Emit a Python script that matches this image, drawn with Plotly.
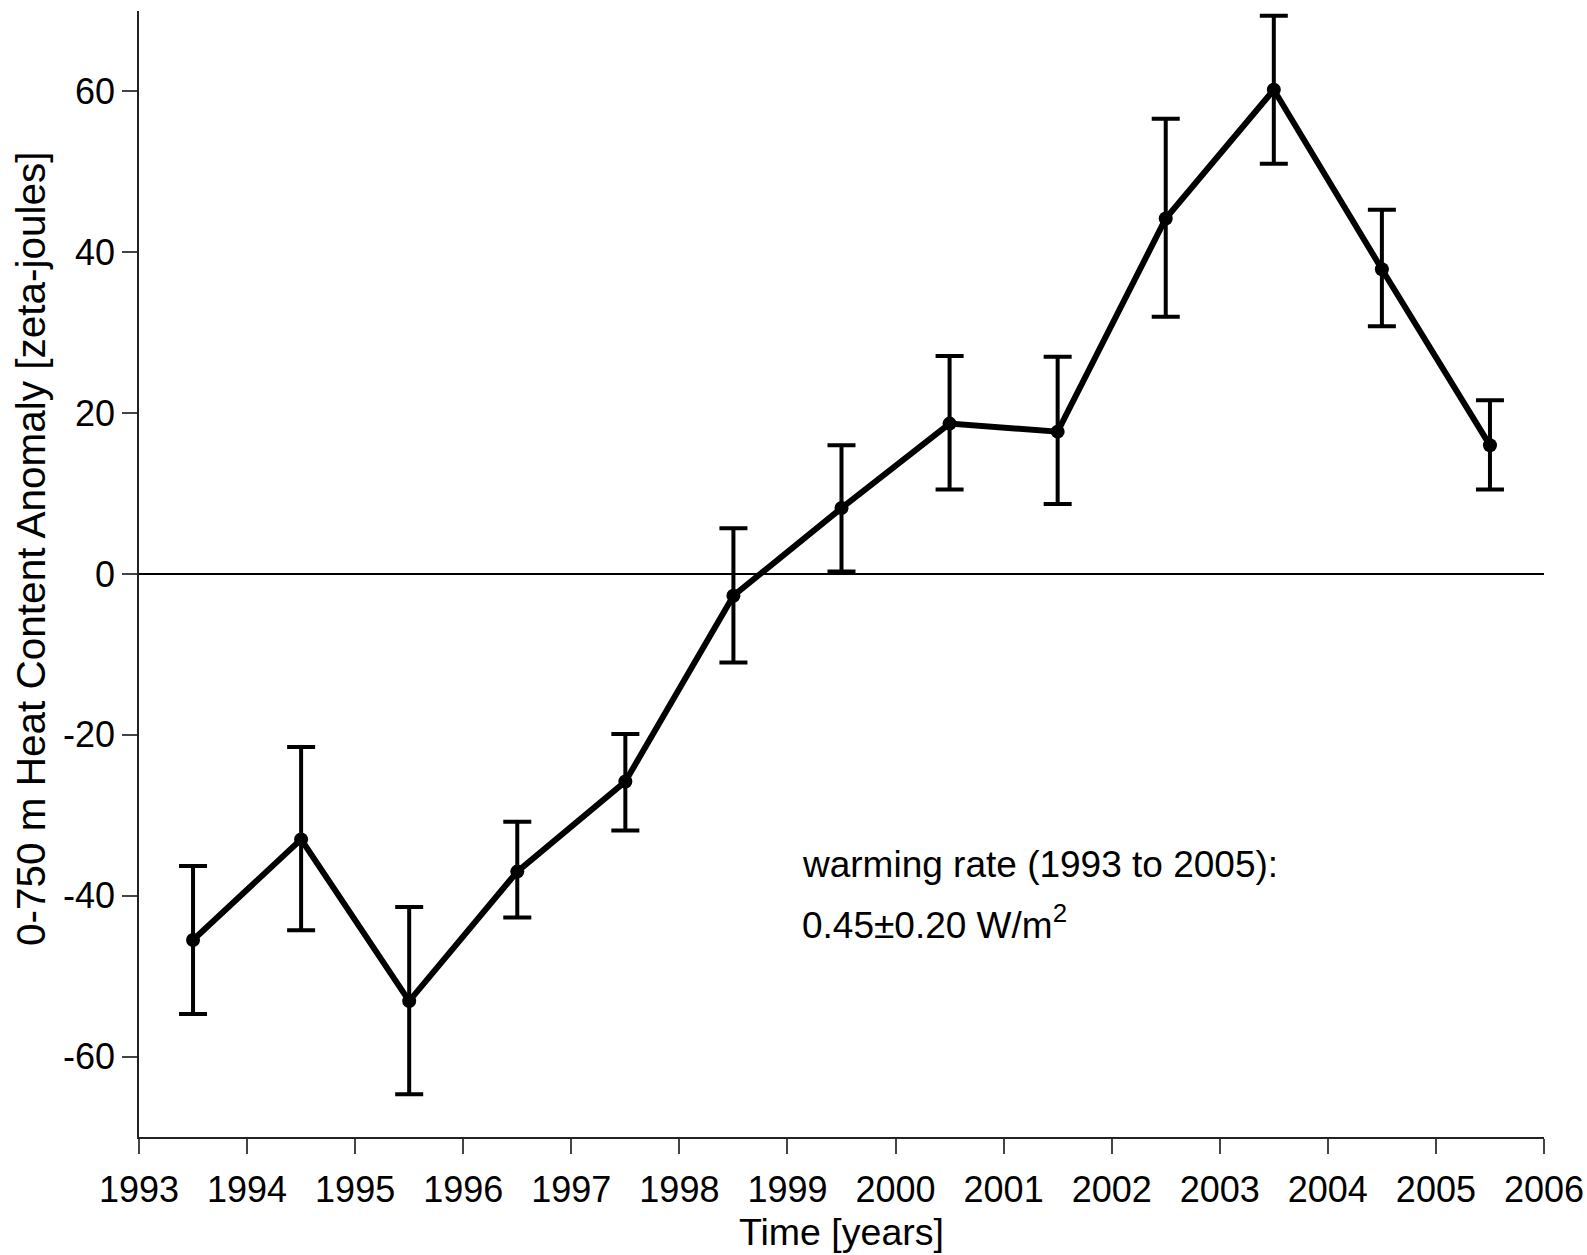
import plotly.graph_objects as go

# Annual mid-year estimates of upper-ocean (0-750 m) heat content anomaly
years = [1993.5, 1994.5, 1995.5, 1996.5, 1997.5, 1998.5, 1999.5,
         2000.5, 2001.5, 2002.5, 2003.5, 2004.5, 2005.5]
anomaly = [-45.5, -33.0, -53.1, -37.0, -25.8, -2.7, 8.2,
           18.7, 17.7, 44.2, 60.2, 37.9, 16.0]
err_upper = [-36.3, -21.5, -41.4, -30.8, -19.9, 5.7, 16.0,
             27.1, 27.0, 56.6, 69.4, 45.3, 21.6]
err_lower = [-54.7, -44.3, -64.7, -42.7, -31.9, -11.0, 0.3,
             10.5, 8.7, 32.0, 51.0, 30.8, 10.5]

x_ticks = list(range(1993, 2007))
y_ticks = [-60, -40, -20, 0, 20, 40, 60]

plus = [u - a for u, a in zip(err_upper, anomaly)]
minus = [a - l for a, l in zip(anomaly, err_lower)]

FONT = "Liberation Sans, Arial, Helvetica, sans-serif"

fig = go.Figure()
fig.add_trace(go.Scatter(
    x=years, y=anomaly,
    mode="lines+markers",
    line=dict(color="black", width=6),
    marker=dict(color="black", size=14),
    error_y=dict(type="data", symmetric=False, array=plus, arrayminus=minus,
                 color="black", thickness=4, width=14),
    showlegend=False,
))

axis_common = dict(
    showgrid=False, automargin=False,
    showline=True, linecolor="#222", linewidth=1.5,
    ticks="outside", ticklen=15, tickwidth=1.5, tickcolor="#444",
    tickfont=dict(family=FONT, size=36, color="black"),
    mirror=False,
)

fig.update_xaxes(range=[1993, 2006], tickvals=x_ticks,
                 ticktext=[str(v) for v in x_ticks],
                 zeroline=False, ticklabelstandoff=5, **axis_common)
fig.update_yaxes(range=[-70, 70], tickvals=y_ticks,
                 ticktext=[str(v) for v in y_ticks],
                 zeroline=True, zerolinecolor="black", zerolinewidth=1.5,
                 **axis_common)

fig.update_layout(
    width=1587, height=1255,
    margin=dict(l=139, r=43, t=11, b=118),
    paper_bgcolor="white", plot_bgcolor="white",
    font=dict(family=FONT, size=36, color="black"),
    annotations=[
        dict(text="Time [years]", xref="paper", yref="paper",
             x=0.5, y=-0.0844, xanchor="center", yanchor="middle",
             showarrow=False, font=dict(size=37.5)),
        dict(text="0-750 m Heat Content Anomaly [zeta-joules]",
             xref="paper", yref="paper", x=-0.0769, y=0.523,
             xanchor="center", yanchor="middle", textangle=-90,
             showarrow=False, font=dict(size=40.5)),
        dict(text="warming rate (1993 to 2005):", xref="x", yref="y",
             x=1999.12, y=(575 - 866) / 8.06, xanchor="left", yanchor="middle",
             showarrow=False, font=dict(size=37)),
        dict(text="0.45\u00b10.20 W/m<sup>2</sup>", xref="x", yref="y",
             x=1999.12, y=(575 - 924) / 8.06, xanchor="left", yanchor="middle",
             showarrow=False, font=dict(size=37)),
    ],
)

fig.write_html("out.html")
